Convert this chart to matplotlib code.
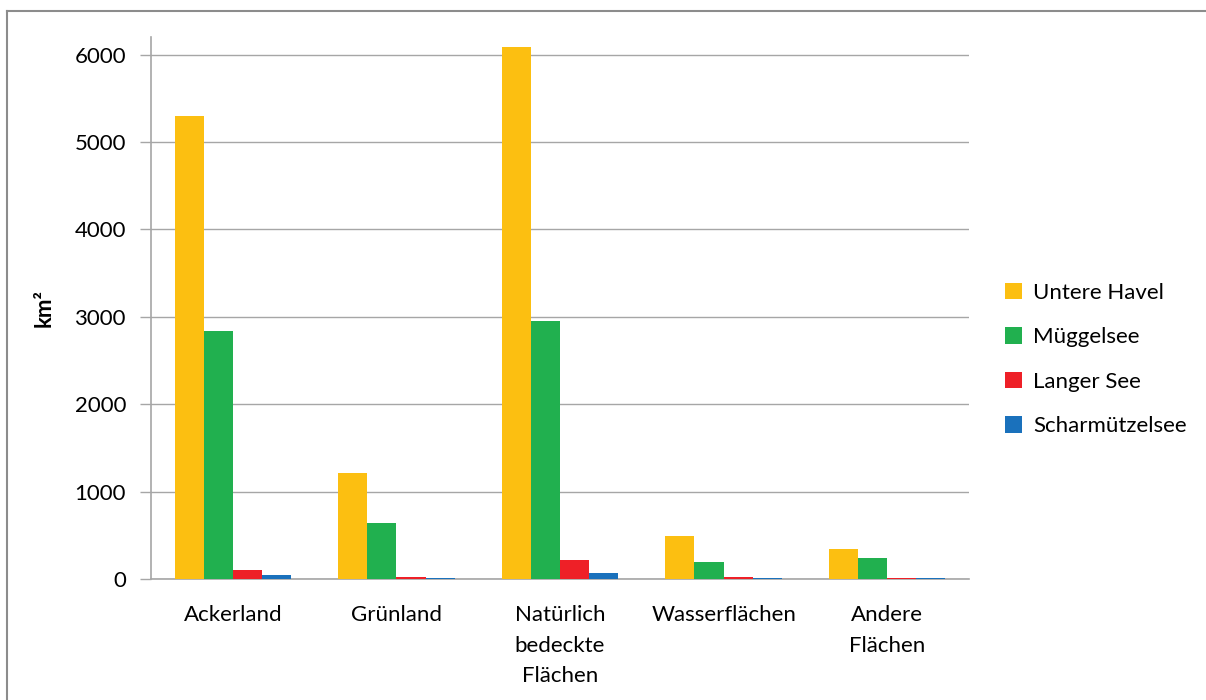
import matplotlib
matplotlib.use("Agg")
import matplotlib.pyplot as plt
import numpy as np
from matplotlib.lines import Line2D

categories = ["Ackerland", "Grünland", "Natürlich\nbedeckte\nFlächen", "Wasserflächen", "Andere\nFlächen"]
series_names = ["Untere Havel", "Müggelsee", "Langer See", "Scharmützelsee"]
untere_havel = [5292, 1214, 6082, 493, 344]
mueggelsee = [2841, 641, 2955, 195, 244]
langer_see = [103, 25, 218, 25, 12]
scharmuetzelsee = [40, 12, 70, 12, 12]
colors = ["#FCBF11", "#21B04F", "#EE2027", "#1A71BC"]
yticks = [0, 1000, 2000, 3000, 4000, 5000, 6000]

plt.rcParams['font.family'] = ['Lato', 'DejaVu Sans']

fig = plt.figure(figsize=(12.06, 7.0), dpi=100)
ax = fig.add_axes([151/1206, 0.173, 818/1206, 0.774])

data = [untere_havel, mueggelsee, langer_see, scharmuetzelsee]
x = np.arange(len(categories))
w = 0.178
for i, (vals, name, c) in enumerate(zip(data, series_names, colors)):
    ax.bar(x + (i - 1.5) * w, vals, width=w, color=c, label=name, zorder=3)

ax.set_xlim(-0.5, len(categories) - 0.5)
ax.set_ylim(0, 6200)
ax.set_yticks(yticks)
ax.set_yticklabels([str(t) for t in yticks], fontsize=16)
ax.set_xticks(x)
ax.set_xticklabels(categories, fontsize=16, linespacing=1.65)
ax.tick_params(axis='x', length=0, pad=19)
ax.tick_params(axis='y', length=8, width=1, color='#A6A6A6', pad=10)
ax.grid(axis='y', color='#A6A6A6', linewidth=1, zorder=0)
for s in ['top', 'right']:
    ax.spines[s].set_visible(False)
for s in ['left', 'bottom']:
    ax.spines[s].set_color('#A6A6A6')
    ax.spines[s].set_linewidth(1.2)
ax.set_ylabel("km²", fontsize=16, fontweight='bold', labelpad=14)

leg = ax.legend(loc='center left', bbox_to_anchor=(1.02, 0.405), frameon=False,
                fontsize=16, handlelength=0.75, handleheight=0.75,
                labelspacing=1.1, handletextpad=0.5)

# outer frame lines
fig.add_artist(Line2D([7/1206, 7/1206], [0, 1 - 11/700], color='#8C8C8C', lw=1.5, transform=fig.transFigure))
fig.add_artist(Line2D([7/1206, 1], [1 - 11/700, 1 - 11/700], color='#8C8C8C', lw=1.5, transform=fig.transFigure))

fig.savefig("out.png", dpi=100)
